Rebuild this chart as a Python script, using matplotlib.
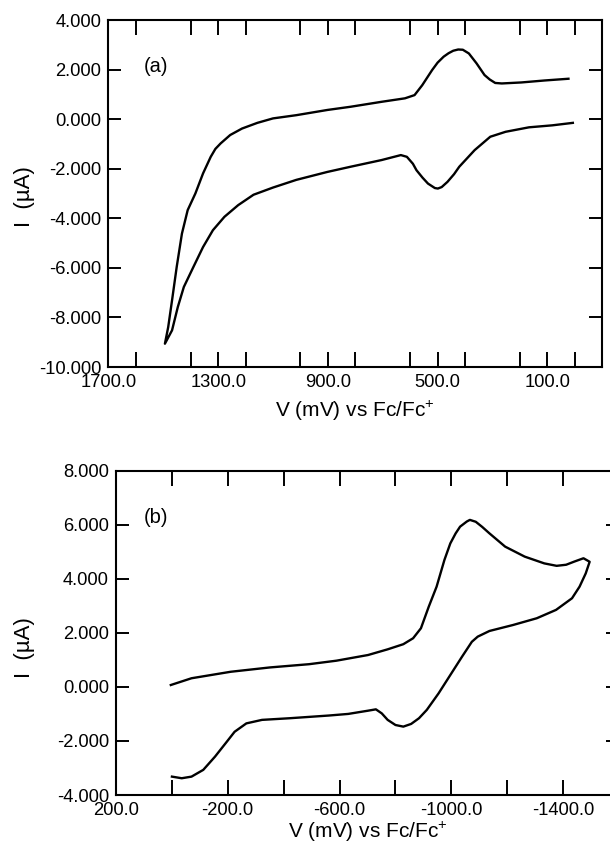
import matplotlib
matplotlib.use("Agg")
import matplotlib.pyplot as plt
from matplotlib.ticker import MultipleLocator, FixedLocator

plt.rcParams['font.family'] = ['Liberation Sans', 'DejaVu Sans']
plt.rcParams['mathtext.default'] = 'regular'

# ---------------- Panel (a) data ----------------
a_upper_V = [23, 110, 195, 266, 290, 310, 329, 358, 386, 408, 425, 443, 460, 478, 500, 520,
             556, 584, 619, 704, 817, 902, 1015, 1100, 1157, 1213, 1256, 1291, 1310, 1327,
             1355, 1383, 1411, 1432, 1451, 1468, 1482, 1494]
a_upper_I = [1.63, 1.56, 1.48, 1.44, 1.46, 1.60, 1.78, 2.25, 2.65, 2.80, 2.81, 2.76, 2.66,
             2.52, 2.28, 1.98, 1.37, 0.97, 0.84, 0.70, 0.50, 0.37, 0.16, 0.03, -0.15, -0.38,
             -0.64, -0.98, -1.20, -1.52, -2.19, -3.00, -3.67, -4.62, -5.96, -7.31, -8.39,
             -9.06]
a_lower_V = [1468, 1447, 1425, 1390, 1355, 1319, 1277, 1227, 1171, 1100, 1015, 902, 817,
             704, 634, 612, 590, 577, 555, 535, 510, 499, 485, 464, 440, 421, 365, 308, 252,
             167, 82, 7]
a_lower_I = [-8.52, -7.58, -6.77, -5.96, -5.16, -4.48, -3.94, -3.47, -3.05, -2.76, -2.45,
             -2.13, -1.92, -1.65, -1.45, -1.52, -1.80, -2.06, -2.36, -2.60, -2.78, -2.80,
             -2.74, -2.53, -2.22, -1.92, -1.25, -0.71, -0.51, -0.33, -0.25, -0.15]

# ---------------- Panel (b) data ----------------
b_upper_V = [3, -71, -211, -351, -491, -589, -702, -772, -828, -863, -891, -919, -947,
             -975, -996, -1015, -1031, -1055, -1066, -1087, -1110, -1136, -1192, -1262, -1332,
             -1376, -1410, -1440, -1472, -1494]
b_upper_I = [0.07, 0.32, 0.56, 0.72, 0.84, 0.97, 1.18, 1.39, 1.58, 1.80, 2.17, 2.97, 3.71,
             4.70, 5.31, 5.68, 5.93, 6.12, 6.18, 6.11, 5.92, 5.68, 5.19, 4.82, 4.57, 4.48,
             4.52, 4.64, 4.76, 4.63]
b_lower_V = [-1480, -1458, -1431, -1374, -1305, -1220, -1136, -1094, -1073, -1038, -996,
             -954, -912, -884, -856, -828, -800, -772, -751, -730, -702, -631, -561, -421,
             -323, -267, -225, -197, -155, -113, -71, -36, -1]
b_lower_I = [4.20, 3.71, 3.28, 2.85, 2.54, 2.29, 2.07, 1.86, 1.67, 1.12, 0.44, -0.24,
             -0.85, -1.16, -1.37, -1.47, -1.41, -1.22, -0.98, -0.83, -0.88, -1.00, -1.06,
             -1.16, -1.22, -1.35, -1.66, -2.03, -2.58, -3.07, -3.32, -3.38, -3.32]

a_xticks_labeled = [1700, 1300, 900, 500, 100]
b_xticks_labeled = [200, -200, -600, -1000, -1400]
a_yticks = [4, 2, 0, -2, -4, -6, -8, -10]
b_yticks = [8, 6, 4, 2, 0, -2, -4]

xlabel = 'V (mV) vs Fc/Fc$^{+}$'
ylabel = 'I  (\u00b5A)'

W, H = 610, 846
fig = plt.figure(figsize=(W / 100, H / 100), dpi=100)


def px_axes(l, r, t, b):
    return fig.add_axes([l / W, 1 - b / H, (r - l) / W, (b - t) / H])


def style(ax, xlim, ylim, xlab_ticks, yticks, panel, lab_y_frac, lab_x_frac, xl_y, yl_x, yl_y):
    ax.set_xlim(*xlim)
    ax.set_ylim(*ylim)
    ax.xaxis.set_major_locator(FixedLocator(xlab_ticks))
    ax.xaxis.set_minor_locator(MultipleLocator(200))
    ax.set_yticks(yticks)
    ax.set_xticklabels(['%.1f' % v for v in xlab_ticks])
    ax.set_yticklabels(['%.3f' % v for v in yticks])
    for s in ax.spines.values():
        s.set_linewidth(1.5)
    ax.tick_params(axis='x', which='both', direction='in', top=True, bottom=True,
                   length=10.5, width=1.4, labelsize=13.2, pad=5)
    ax.tick_params(axis='y', which='both', direction='in', left=True, right=True,
                   length=9.5, width=1.4, labelsize=13.2, pad=5)
    ax.text(lab_x_frac, lab_y_frac, panel, transform=ax.transAxes, fontsize=14.5,
            ha='left', va='center')
    ax.set_xlabel(xlabel, fontsize=15, va='center')
    ax.xaxis.set_label_coords(0.5, xl_y)
    ax.set_ylabel(ylabel, fontsize=16, va='center')
    ax.yaxis.set_label_coords(yl_x, yl_y)


# Panel (a)
axa = px_axes(108.4, 602.2, 20, 367)
axa.plot(a_upper_V + a_lower_V, a_upper_I + a_lower_I, color='black', lw=1.7,
         solid_joinstyle='round')
style(axa, (1700, -100), (-10, 4), a_xticks_labeled, a_yticks, '(a)',
      0.867, 0.072, -0.128, -0.170, 0.49)

# Panel (b)
axb = px_axes(115.7, 619.3, 470.7, 795)
axb.plot(b_upper_V + b_lower_V, b_upper_I + b_lower_I, color='black', lw=1.7,
         solid_joinstyle='round')
style(axb, (200, -1600), (-4, 8), b_xticks_labeled, b_yticks, '(b)',
      0.856, 0.056, -0.115, -0.182, 0.456)

fig.savefig('out.png', dpi=100, facecolor='white')
